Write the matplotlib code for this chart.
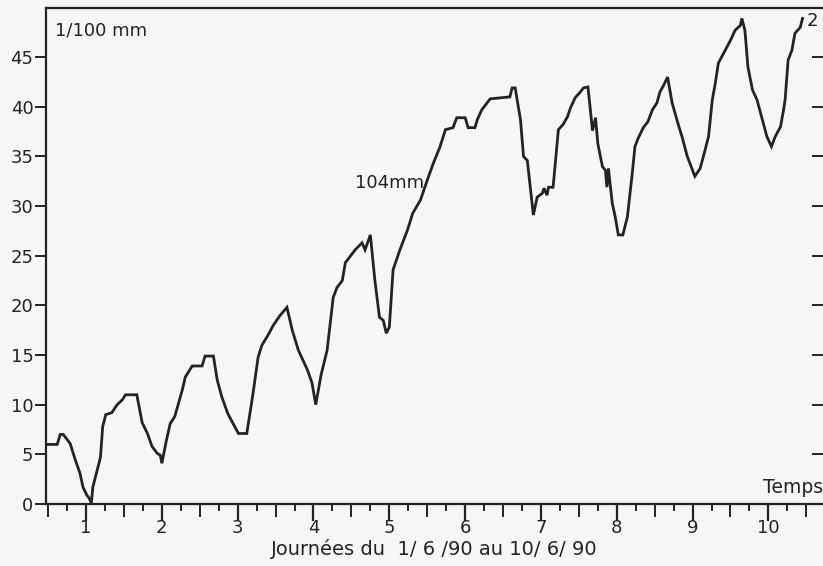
import numpy as np
import matplotlib.pyplot as plt

# enregistrement : journees du 1/6/90 au 10/6/90, deplacement en 1/100 mm
jours = [0.47, 0.62, 0.66, 0.70, 0.79, 0.86, 0.92, 0.96, 1.01, 1.04, 1.07, 1.09,
         1.19, 1.22, 1.26, 1.34, 1.41, 1.48, 1.52, 1.67, 1.74, 1.81, 1.87, 1.94,
         1.98, 2.00, 2.06, 2.11, 2.17, 2.27, 2.31, 2.40, 2.53, 2.57, 2.68, 2.73,
         2.79, 2.87, 2.94, 3.01, 3.12, 3.20, 3.27, 3.32, 3.40, 3.47, 3.56, 3.65,
         3.72, 3.80, 3.92, 3.98, 4.03, 4.10, 4.18, 4.26, 4.31, 4.38, 4.42, 4.48,
         4.55, 4.64, 4.68, 4.75, 4.81, 4.87, 4.92, 4.96, 5.00, 5.05, 5.14, 5.24,
         5.31, 5.41, 5.50, 5.58, 5.67, 5.74, 5.84, 5.89, 6.00, 6.04, 6.13, 6.16,
         6.22, 6.33, 6.59, 6.62, 6.66, 6.73, 6.77, 6.82, 6.90, 6.95, 7.02, 7.04,
         7.08, 7.10, 7.16, 7.23, 7.29, 7.35, 7.39, 7.45, 7.52, 7.56, 7.62, 7.68,
         7.72, 7.75, 7.81, 7.85, 7.87, 7.89, 7.94, 7.98, 8.02, 8.08, 8.14, 8.20,
         8.24, 8.28, 8.35, 8.41, 8.47, 8.53, 8.57, 8.62, 8.67, 8.73, 8.80, 8.86,
         8.93, 9.00, 9.03, 9.10, 9.17, 9.21, 9.26, 9.30, 9.34, 9.43, 9.50, 9.56,
         9.63, 9.65, 9.69, 9.73, 9.79, 9.85, 9.92, 9.98, 10.04, 10.09, 10.16, 10.20,
         10.22, 10.26, 10.31, 10.35, 10.42, 10.45]
valeurs = [6.0, 6.0, 7.0, 7.0, 6.1, 4.4, 3.1, 1.7, 0.9, 0.6, 0.1, 1.7,
           4.7, 7.8, 9.0, 9.2, 10.0, 10.5, 11.0, 11.0, 8.2, 7.1, 5.8, 5.1,
           4.9, 4.1, 6.4, 8.1, 8.8, 11.5, 12.8, 13.9, 13.9, 14.9, 14.9, 12.5,
           10.8, 9.1, 8.1, 7.1, 7.1, 11.0, 14.8, 16.0, 17.0, 18.0, 19.0, 19.8,
           17.5, 15.5, 13.5, 12.2, 10.0, 13.0, 15.5, 20.8, 21.8, 22.5, 24.3, 24.9,
           25.6, 26.3, 25.6, 27.1, 22.5, 18.8, 18.5, 17.2, 17.8, 23.6, 25.6, 27.6,
           29.3, 30.6, 32.6, 34.3, 36.0, 37.7, 37.9, 38.9, 38.9, 37.9, 37.9, 38.7,
           39.7, 40.8, 41.0, 41.9, 41.9, 38.7, 35.0, 34.6, 29.1, 30.9, 31.3, 31.8,
           31.1, 31.9, 31.9, 37.7, 38.2, 39.0, 39.9, 40.9, 41.5, 41.9, 42.0, 37.6,
           38.9, 36.3, 34.0, 33.6, 31.9, 33.8, 30.3, 28.9, 27.1, 27.1, 28.9, 33.0,
           36.0, 36.8, 37.9, 38.5, 39.7, 40.4, 41.5, 42.2, 43.0, 40.4, 38.5, 37.0,
           35.0, 33.6, 33.0, 33.8, 35.8, 37.0, 40.7, 42.4, 44.4, 45.7, 46.7, 47.7,
           48.2, 48.9, 47.7, 44.0, 41.7, 40.7, 38.7, 37.0, 36.0, 37.0, 38.0, 39.7,
           40.7, 44.7, 45.7, 47.4, 48.0, 48.9]

y_ticks = [0, 5, 10, 15, 20, 25, 30, 35, 40, 45]
x_ticks = [1, 2, 3, 4, 5, 6, 7, 8, 9, 10]

fond = '#f6f6f8'
encre = '#232323'

fig = plt.figure(figsize=(8.23, 5.66), dpi=100, facecolor=fond)
ax = fig.add_axes([46/823, 1 - 504/566, 1 - 46/823, (504 - 8)/566])
ax.set_facecolor(fond)

ax.plot(jours, valeurs, color=encre, lw=2.0, solid_joinstyle='miter')

ax.set_xlim(0.472, 10.72)
ax.set_ylim(0, 49.95)

for s in ['left', 'bottom', 'top']:
    ax.spines[s].set_linewidth(1.6)
    ax.spines[s].set_color(encre)
ax.spines['right'].set_visible(False)

# axe y : graduations a gauche (vers l'exterieur)
ax.set_yticks(y_ticks)
ax.tick_params(axis='y', which='major', direction='out', length=8, width=1.4,
               color=encre, labelsize=13, labelcolor=encre, pad=1)
# graduations a droite, vers l'interieur
droite = ax.secondary_yaxis('right')
droite.set_yticks(y_ticks[1:])
droite.set_yticklabels([])
droite.tick_params(direction='in', length=8, width=1.4, color=encre)
droite.spines['right'].set_visible(False)

# axe x : demi-journees (moyennes) et quarts (courtes), journees (longues)
demi = np.arange(0.5, 10.6, 0.5)
ax.set_xticks(demi)
ax.set_xticklabels([str(int(v)) if v == int(v) else '' for v in demi])
ax.set_xticks(np.arange(0.75, 10.6, 0.5), minor=True)
ax.tick_params(axis='x', which='major', direction='out', length=9, width=1.4,
               color=encre, labelsize=13, labelcolor=encre, pad=2)
ax.tick_params(axis='x', which='minor', direction='out', length=5, width=1.4, color=encre)
sec = ax.secondary_xaxis('bottom')
sec.set_xticks(x_ticks)
sec.set_xticklabels([])
sec.tick_params(length=12, width=1.6, color=encre)
sec.spines['bottom'].set_visible(False)

ax.set_xlabel('Journées du  1/ 6 /90 au 10/ 6/ 90', fontsize=14, color=encre, labelpad=1)

ax.text(0.012, 0.955, '1/100 mm', transform=ax.transAxes, fontsize=13, color=encre,
        va='center', ha='left')
ax.text(1.0, 0.033, 'Temps', transform=ax.transAxes, fontsize=13.5, color=encre,
        va='center', ha='right')
ax.text(5.0, 32.3, '104mm', fontsize=13, color=encre, va='center', ha='center')
ax.text(10.5, 48.6, '2', fontsize=13, color=encre, va='center', ha='left')

fig.savefig('out.png', dpi=100, facecolor=fond)
